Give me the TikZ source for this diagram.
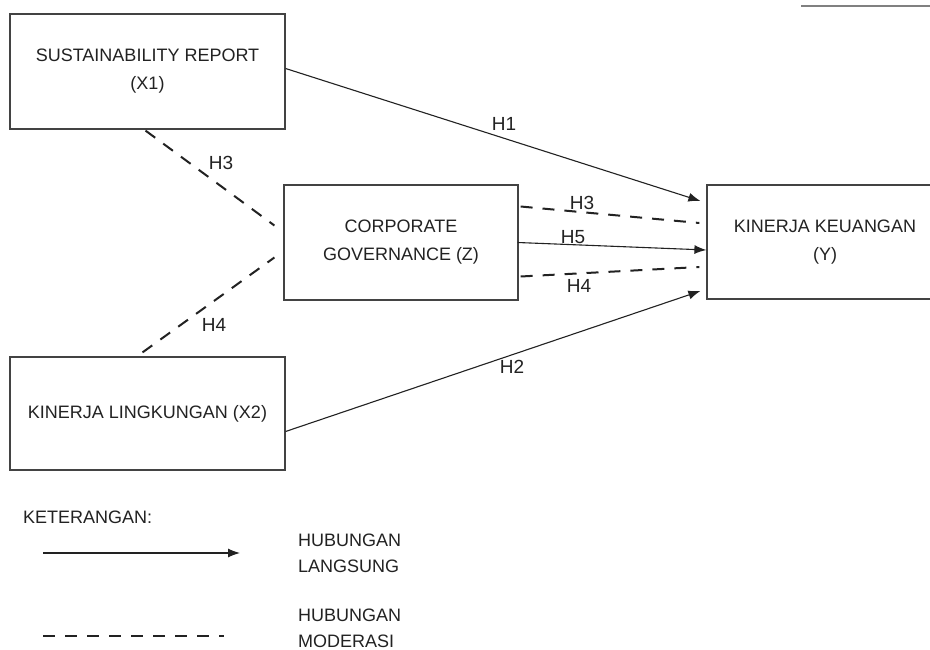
\documentclass[tikz,border=0pt]{standalone}
\usepackage{fontspec}
\setmainfont{Liberation Sans}
\usetikzlibrary{arrows.meta,calc}
\definecolor{ink}{HTML}{222222}
\begin{document}
\begin{tikzpicture}[x=1pt,y=-1pt,
 box/.style={draw=ink!85, line width=1.2pt, inner sep=0pt, align=center, text=ink, font=\fontsize{18}{28}\selectfont},
 lbl/.style={text=ink, font=\fontsize{19}{22}\selectfont, inner sep=0pt},
 legtext/.style={text=ink, font=\fontsize{18}{26}\selectfont, inner sep=0pt, align=left, anchor=west},
 direct/.style={draw=ink, line width=1.1pt, -{Latex[length=12pt,width=9pt]}},
 moder/.style={draw=ink, line width=2pt, dash pattern=on 12pt off 10pt},
]
\useasboundingbox (0,0) rectangle (930,650);
\clip (0,0) rectangle (930,650);
\fill[white] (0,0) rectangle (930,650);
\draw[gray, line width=2pt] (801,6) -- (930,6);

% boxes
\node[box, minimum width=275pt, minimum height=115pt] (X1) at (147.5,71.5) {SUSTAINABILITY REPORT\\(X1)};
\node[box, minimum width=234pt, minimum height=115pt] (Z) at (401,242.5) {CORPORATE\\GOVERNANCE (Z)};
\node[box, minimum width=236pt, minimum height=114pt] (Y) at (825,242) {KINERJA KEUANGAN\\(Y)};
\node[box, minimum width=275pt, minimum height=113pt] (X2) at (147.5,413.5) {KINERJA LINGKUNGAN (X2)};

% direct relations
\draw[direct] ($(X1.east)+(0,-3)$) -- ($(Y.west)+(-6,-41)$);
\draw[direct] ($(X2.east)+(0,18)$) -- ($(Y.west)+(-6,49)$);
\draw[direct] ($(Z.east)+(-1,0)$) -- ($(Y.west)+(0,8)$);

% moderating relations
\draw[moder] ($(X1.south)+(-2,1)$) -- ($(Z.west)+(-9,-17)$);
\draw[moder] ($(X2.north)+(-5,-4)$) -- ($(Z.west)+(-9,15)$);
\draw[moder] ($(Z.east)+(2,-36)$) -- ($(Y.west)+(-7,-19)$);
\draw[moder] ($(Z.east)+(2,34)$) -- ($(Y.west)+(-7,25)$);

% labels
\node[lbl] (h1) at (504,124) {H1};
\node[lbl] (h3a) at (221,163) {H3};
\node[lbl] (h4a) at (214,325) {H4};
\node[lbl] (h2) at (512,367) {H2};
\node[lbl] (h3b) at (582,203) {H3};
\node[lbl] (h5) at (573,237) {H5};
\node[lbl] (h4b) at (579,286) {H4};

% legend
\node[legtext] (ket) at (23,517) {KETERANGAN:};
\coordinate (la1) at (43,553);
\coordinate (la2) at (240,553);
\draw[direct] (la1) -- (la2);
\node[legtext] (lang) at (298,553) {HUBUNGAN\\LANGSUNG};
\coordinate (lm1) at (43,636);
\coordinate (lm2) at (224,636);
\draw[moder] (lm1) -- (lm2);
\node[legtext] (mod) at (298,628) {HUBUNGAN\\MODERASI};
\end{tikzpicture}
\end{document}
